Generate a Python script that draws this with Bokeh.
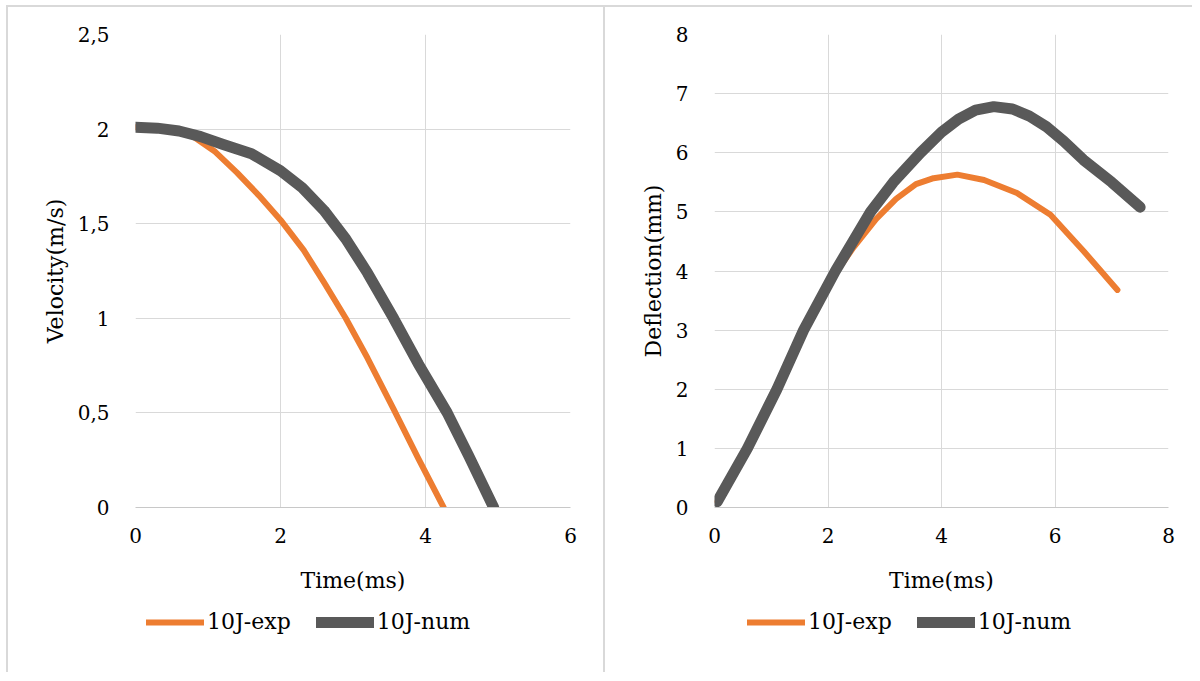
from bokeh.plotting import figure
from bokeh.layouts import row, column
from bokeh.models import Range1d, FixedTicker, Legend, LegendItem
from bokeh.embed import file_html
from bokeh.resources import INLINE

# ---------------- data ----------------
# Left panel: velocity (m/s) vs time (ms)
vel_exp_t = [0.0, 0.5, 0.8, 1.1, 1.4, 1.7, 2.0, 2.32, 2.6, 2.9, 3.2, 3.56, 3.9, 4.25]
vel_exp_v = [2.01, 1.995, 1.96, 1.88, 1.77, 1.65, 1.52, 1.36, 1.19, 1.0, 0.79, 0.52, 0.26, 0.0]
vel_num_t = [0.0, 0.3, 0.6, 0.9, 1.2, 1.6, 2.0, 2.3, 2.6, 2.9, 3.2, 3.56, 3.9, 4.3, 4.6, 4.94]
vel_num_v = [2.01, 2.005, 1.99, 1.96, 1.92, 1.87, 1.78, 1.69, 1.57, 1.42, 1.24, 1.0, 0.76, 0.5, 0.27, 0.0]

# Right panel: deflection (mm) vs time (ms)
def_exp_t = [0.05, 0.58, 1.1, 1.57, 2.05, 2.45, 2.85, 3.2, 3.55, 3.86, 4.28, 4.75, 5.33, 5.92, 6.51, 7.1]
def_exp_d = [0.1, 1.0, 2.0, 3.0, 3.85, 4.4, 4.88, 5.22, 5.47, 5.57, 5.63, 5.54, 5.32, 4.95, 4.33, 3.68]
def_num_t = [0.05, 0.58, 1.1, 1.57, 2.13, 2.75, 3.15, 3.63, 4.0, 4.3, 4.6, 4.92, 5.25, 5.55, 5.85, 6.15, 6.5, 7.0, 7.5]
def_num_d = [0.1, 1.0, 2.0, 3.0, 4.0, 5.0, 5.5, 6.0, 6.35, 6.57, 6.72, 6.78, 6.74, 6.62, 6.44, 6.2, 5.88, 5.5, 5.08]

series_labels = ["10J-exp", "10J-num"]
left_x_ticks = [0, 2, 4, 6]
left_y_ticks = [0, 0.5, 1, 1.5, 2, 2.5]
left_y_tick_labels = ["0", "0,5", "1", "1,5", "2", "2,5"]
right_x_ticks = [0, 2, 4, 6, 8]
right_y_ticks = [0, 1, 2, 3, 4, 5, 6, 7, 8]

ORANGE = "#ED7D31"
DARK = "#595959"
GRID = "#d9d9d9"
FONT = "DejaVu Serif"
EXP_STYLE = dict(line_color=ORANGE, line_width=6, line_cap="round", line_join="round")
NUM_STYLE = dict(line_color=DARK, line_width=11, line_cap="round", line_join="round")


def style(p, xticks, yticks, ylabels=None):
    p.xgrid.grid_line_color = GRID
    p.ygrid.grid_line_color = GRID
    p.outline_line_color = None
    p.xaxis.ticker = FixedTicker(ticks=xticks)
    p.yaxis.ticker = FixedTicker(ticks=yticks)
    if ylabels is not None:
        p.yaxis.major_label_overrides = {float(k): v for k, v in zip(yticks, ylabels)}
    for ax in (p.xaxis[0], p.yaxis[0]):
        ax.major_tick_line_color = None
        ax.minor_tick_line_color = None
        ax.major_label_text_font = FONT
        ax.major_label_text_font_size = "20px"
        ax.major_label_text_color = "#000000"
        ax.axis_label_text_font = FONT
        ax.axis_label_text_font_size = "22px"
        ax.axis_label_text_font_style = "normal"
        ax.axis_label_text_color = "#000000"
    p.xaxis.axis_line_color = "#c8c8c8"
    p.yaxis.axis_line_color = None
    p.xaxis.major_label_standoff = 14
    p.xaxis.axis_label_standoff = 22
    p.yaxis.major_label_standoff = 20
    p.yaxis.axis_label_standoff = 7
    p.background_fill_color = "white"
    p.border_fill_color = "white"


def legend_fig(width, t_exp, y_exp, t_num, y_num, x):
    # A strip below each chart that holds only its legend; the series lie outside its view.
    # Its frame is aligned with the chart's frame above it by the column layout.
    lf = figure(width=width, height=75, output_backend="svg", toolbar_location=None,
                x_range=Range1d(-20, -19), y_range=Range1d(-20, -19),
                x_axis_location=None, y_axis_location=None, min_border=0)
    lf.grid.visible = False
    lf.outline_line_color = None
    r1 = lf.line(t_exp, y_exp, **EXP_STYLE)
    r2 = lf.line(t_num, y_num, **NUM_STYLE)
    leg = Legend(
        items=[LegendItem(label=series_labels[0], renderers=[r1]),
               LegendItem(label=series_labels[1], renderers=[r2])],
        location=(x, 38), orientation="horizontal",
        glyph_width=58, glyph_height=20, label_standoff=3, spacing=25,
        padding=4, margin=0, border_line_color=None, background_fill_alpha=0,
        label_text_font=FONT, label_text_font_size="22px", label_text_color="#000000",
    )
    lf.add_layout(leg)
    return lf


border_css = {"border-top": "2px solid #d9d9d9", "border-left": "2px solid #d9d9d9"}

p1 = figure(width=595, height=590, output_backend="svg", toolbar_location=None,
            x_range=Range1d(0, 6), y_range=Range1d(0, 2.5),
            x_axis_label="Time(ms)", y_axis_label="Velocity(m/s)",
            min_border_left=127, min_border_right=33, min_border_top=27, min_border_bottom=90)
style(p1, left_x_ticks, left_y_ticks, left_y_tick_labels)
p1.line(vel_exp_t, vel_exp_v, **EXP_STYLE)
p1.line(vel_num_t, vel_num_v, **NUM_STYLE)
l1 = legend_fig(595, vel_exp_t, vel_exp_v, vel_num_t, vel_num_v, 11)

p2 = figure(width=587, height=590, output_backend="svg", toolbar_location=None,
            x_range=Range1d(0, 8), y_range=Range1d(0, 8),
            x_axis_label="Time(ms)", y_axis_label="Deflection(mm)",
            min_border_left=109, min_border_right=24, min_border_top=27, min_border_bottom=90)
style(p2, right_x_ticks, right_y_ticks)
p2.line(def_exp_t, def_exp_d, **EXP_STYLE)
p2.line(def_num_t, def_num_d, **NUM_STYLE)
l2 = legend_fig(587, def_exp_t, def_exp_d, def_num_t, def_num_d, 33)

left_panel = column(p1, l1, spacing=0, styles=border_css)
right_panel = column(p2, l2, spacing=0, styles=border_css)
layout = row(left_panel, right_panel, spacing=0, margin=(5, 0, 0, 6))
open("out.html", "w").write(file_html(layout, INLINE))
